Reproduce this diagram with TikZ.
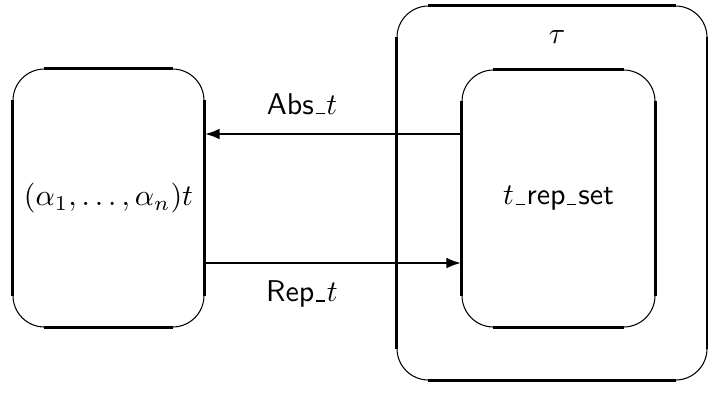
\documentclass[tikz,border=0pt]{standalone}
\usetikzlibrary{arrows.meta}
\newcommand\boxedges[2]{%
  \draw[straight] ([xshift=#2]#1.north west) -- ([xshift=-#2]#1.north east);
  \draw[straight] ([xshift=#2]#1.south west) -- ([xshift=-#2]#1.south east);
  \draw[straight] ([yshift=-#2]#1.north west) -- ([yshift=#2]#1.south west);
  \draw[straight] ([yshift=-#2]#1.north east) -- ([yshift=#2]#1.south east);}
\newcommand\usc{\leavevmode\kern.06em\vbox{\hrule width.3em height.4pt}\kern.06em}
\begin{document}
\begin{tikzpicture}[x=0.33333pt,y=-0.33333pt,
  rbox/.style={draw, line width=0.35pt, rounded corners=10.5pt, inner sep=0pt},
  straight/.style={line width=0.95pt},
  conn/.style={line width=0.95pt, -{Latex[length=5pt,width=3.6pt]}},
  lbl/.style={inner sep=0pt}]
\useasboundingbox (0,0) rectangle (708,392);
\node[rbox, minimum width=310pt/3, minimum height=374pt/3] (tau) at (552,193) {};
\node[rbox, minimum width=191pt/3, minimum height=258pt/3] (L) at (108.5,198) {$(\alpha_1,\ldots,\alpha_n)t$};
\node[rbox, minimum width=193pt/3, minimum height=257pt/3] (R) at (558.5,198.5) {$t$\usc\textsf{rep}\usc\textsf{set}};
\boxedges{tau}{10.5pt}
\boxedges{L}{10.5pt}
\boxedges{R}{10.5pt}
\node[lbl] (taulbl) at (557,37) {$\tau$};
\coordinate (a1) at (R.west |- 0,134);
\coordinate (a2) at (L.east |- 0,134);
\coordinate (b1) at (L.east |- 0,263);
\coordinate (b2) at (R.west |- 0,263);
\draw[conn] (a1) -- (a2);
\draw[conn] (b1) -- (b2);
\node[lbl] (abs) at (302,104) {\textsf{Abs}\usc$t$};
\node[lbl] (rep) at (302,294) {\textsf{Rep}\usc$t$};
\end{tikzpicture}
\end{document}
